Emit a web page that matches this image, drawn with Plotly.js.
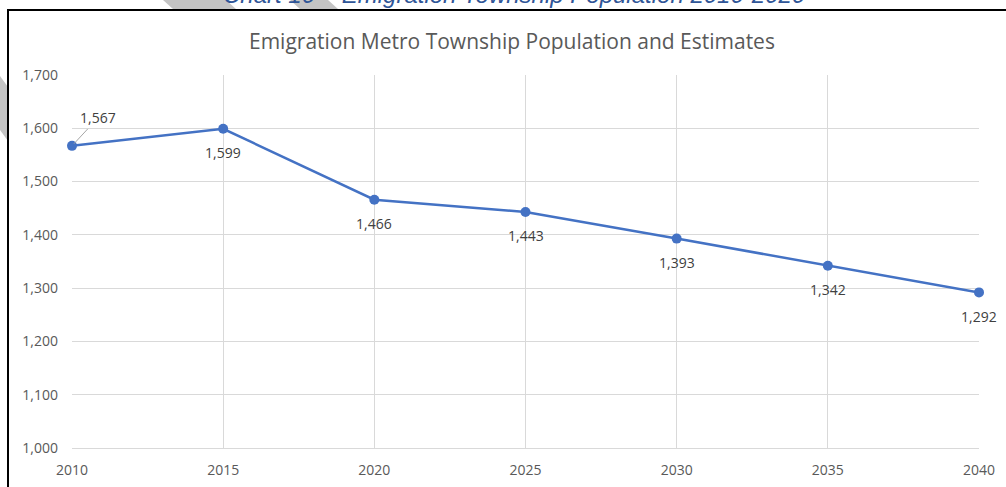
<!DOCTYPE html>
<html>
<head>
<meta charset="utf-8">
<script src="https://cdn.plot.ly/plotly-3.0.1.min.js"></script>
<style>
html,body{margin:0;padding:0;background:#fff;}
#chart{width:1006px;height:487px;}
</style>
</head>
<body>
<div id="chart"></div>
<script>
const years = [2010, 2015, 2020, 2025, 2030, 2035, 2040];
const population = [1567, 1599, 1466, 1443, 1393, 1342, 1292];
const yTicks = [1000, 1100, 1200, 1300, 1400, 1500, 1600, 1700];
const chartTitle = "Emigration Metro Township Population and Estimates";
const docCaption = "Chart 10 \u2013 Emigration Township Population 2010-2020";

const W = 1006, H = 487;
const mL = 72, mR = 27, mT = 75, mB = 39;
const pw = W - mL - mR, ph = H - mT - mB;
const px = x => (x - mL) / pw;          // pixel -> paper x
const py = y => (H - mB - y) / ph;      // pixel -> paper y

const fmt = v => v.toLocaleString('en-US');
const labelFont = {family: 'Open Sans, sans-serif', size: 14, color: '#404040'};

const annotations = population.map((v, i) => {
  if (i === 0) {
    return {x: years[i], y: v, xref: 'x', yref: 'y', text: fmt(v),
      showarrow: true, arrowhead: 0, arrowwidth: 1, arrowcolor: '#a6a6a6',
      ax: 26, ay: -28, standoff: 3, font: labelFont};
  }
  return {x: years[i], y: v, xref: 'x', yref: 'y', text: fmt(v),
    showarrow: false, yshift: -24, font: labelFont};
});

annotations.push({
  xref: 'paper', yref: 'paper', x: px(512), y: py(41),
  xanchor: 'center', yanchor: 'middle', showarrow: false,
  text: chartTitle,
  font: {family: 'Open Sans, sans-serif', size: 21, color: '#595959'}
});
annotations.push({
  xref: 'paper', yref: 'paper', x: px(514), y: py(-6),
  xanchor: 'center', yanchor: 'middle', showarrow: false,
  text: '<i>' + docCaption + '</i>',
  font: {family: 'Liberation Sans, Arial, sans-serif', size: 24, color: '#2F5597'}
});

const shapes = [
  // decorative gray slanted bands (page background)
  {type: 'path', xref: 'paper', yref: 'paper', layer: 'below',
   path: `M ${px(163)} ${py(0)} L ${px(226)} ${py(0)} L ${px(236)} ${py(9)} L ${px(173)} ${py(9)} Z`,
   fillcolor: '#c4c4c4', line: {width: 0}},
  {type: 'path', xref: 'paper', yref: 'paper', layer: 'below',
   path: `M ${px(290)} ${py(0)} L ${px(328)} ${py(0)} L ${px(338)} ${py(9)} L ${px(300)} ${py(9)} Z`,
   fillcolor: '#c4c4c4', line: {width: 0}},
  {type: 'path', xref: 'paper', yref: 'paper', layer: 'below',
   path: `M ${px(0)} ${py(76)} L ${px(8)} ${py(87)} L ${px(8)} ${py(141)} L ${px(0)} ${py(130)} Z`,
   fillcolor: '#c4c4c4', line: {width: 0}},
  // document border
  {type: 'line', xref: 'paper', yref: 'paper', x0: px(8), x1: px(1010), y0: py(10), y1: py(10),
   line: {color: '#000000', width: 2}},
  {type: 'line', xref: 'paper', yref: 'paper', x0: px(8), x1: px(8), y0: py(9), y1: py(490),
   line: {color: '#000000', width: 2}}
];

const trace = {
  x: years, y: population, type: 'scatter', mode: 'lines+markers',
  line: {color: '#4472C4', width: 2.5},
  marker: {color: '#4472C4', size: 10},
  hoverinfo: 'x+y', cliponaxis: false
};

const tickFont = {family: 'Open Sans, sans-serif', size: 14, color: '#595959'};

const layout = {
  width: W, height: H,
  margin: {l: mL, r: mR, t: mT, b: mB, pad: 0},
  paper_bgcolor: '#ffffff', plot_bgcolor: '#ffffff',
  showlegend: false,
  xaxis: {
    range: [2010, 2040], tickvals: years, ticktext: years.map(String),
    showgrid: true, gridcolor: '#d9d9d9', gridwidth: 1,
    zeroline: false, showline: true, linecolor: '#d9d9d9', linewidth: 1,
    ticks: '', ticklabelstandoff: 9, tickfont: tickFont
  },
  yaxis: {
    range: [1000, 1700], tickvals: yTicks, ticktext: yTicks.map(fmt),
    showgrid: true, gridcolor: '#d9d9d9', gridwidth: 1,
    zeroline: false, showline: false,
    ticks: '', ticklabelstandoff: 13, tickfont: tickFont
  },
  annotations: annotations,
  shapes: shapes
};

Plotly.newPlot('chart', [trace], layout, {displayModeBar: false, staticPlot: true});
</script>
</body>
</html>
